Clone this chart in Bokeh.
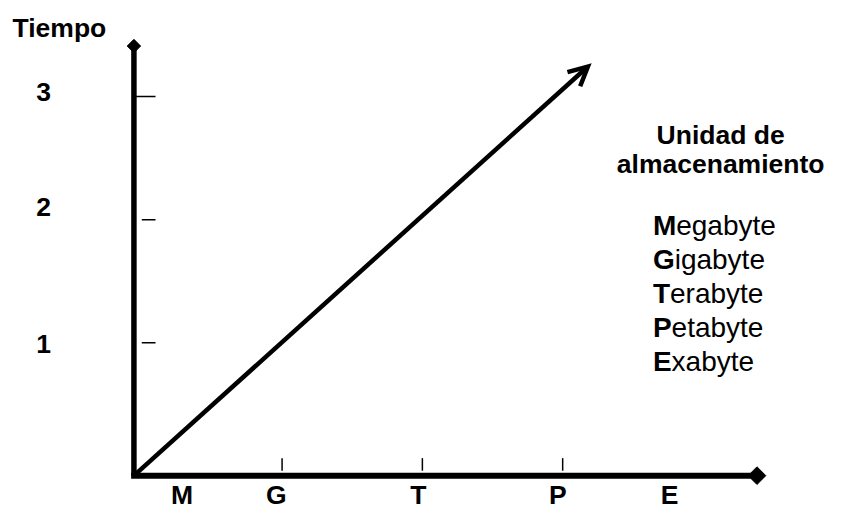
from bokeh.plotting import figure
from bokeh.models import Range1d, ColumnDataSource, Arrow, OpenHead
from bokeh.core.properties import value
from bokeh.embed import file_html
from bokeh.resources import INLINE
import math

# ---- data ----
x_labels = ["M", "G", "T", "P", "E"]
x_label_pos = [0.287, 0.958, 1.972, 2.965, 3.762]
x_ticks = [1, 2, 3]
y_ticks = [1, 2, 3]
y_labels = ["1", "2", "3"]
y_label_pos = [0.992, 2.106, 3.035]
growth_x = [-0.056, 3.18]
growth_y = [-0.079, 3.244]
y_title = "Tiempo"
legend_title = ["Unidad de", "almacenamiento"]
units = ["Megabyte", "Gigabyte", "Terabyte", "Petabyte", "Exabyte"]

FONT = value("Liberation Sans")

# axis extents
ox, oy = -0.056, -0.079
x_end, y_end = 4.385, 3.41

p = figure(width=830, height=509, output_backend="svg", toolbar_location=None,
           x_range=Range1d(-1.007, 4.909), y_range=Range1d(-0.354, 3.780),
           x_axis_type=None, y_axis_type=None, min_border=0)
p.grid.visible = False
p.outline_line_color = None
p.background_fill_color = "white"

# axes
p.segment(x0=[ox], y0=[oy], x1=[ox], y1=[y_end], line_width=5.5, color="black")
p.segment(x0=[ox - 0.02], y0=[oy], x1=[x_end], y1=[oy], line_width=6, color="black")
p.scatter(x=[ox], y=[y_end], marker="square", size=9.5, angle=math.pi / 4, color="black")
p.scatter(x=[x_end], y=[oy], marker="square", size=12.5, angle=math.pi / 4, color="black")

# ticks
p.segment(x0=x_ticks, y0=[0.063] * 3, x1=x_ticks, y1=[-0.039] * 3, line_width=1.5, color="black")
p.segment(x0=[0.0, 0.0, -0.042], y0=y_ticks, x1=[0.098] * 3, y1=y_ticks, line_width=1.5, color="black")

BFS = value("26.5px")
# tick labels
p.text(x=x_label_pos, y=[-0.236] * 5, text=x_labels, text_font=FONT, text_font_style="bold",
       text_font_size=BFS, text_align="center", text_baseline="middle", color="black")
p.text(x=[-0.699] * 3, y=y_label_pos, text=y_labels, text_font=FONT, text_font_style="bold",
       text_font_size=BFS, text_align="center", text_baseline="middle", color="black")
p.text(x=[-0.587], y=[3.555], text=[y_title], text_font=FONT, text_font_style="bold",
       text_font_size=BFS, text_align="center", text_baseline="middle", color="black")

# growth arrow
p.add_layout(Arrow(end=OpenHead(size=19, line_width=4.5, line_color="black", line_join="miter"),
                   x_start=growth_x[0], y_start=growth_y[0], x_end=growth_x[1], y_end=growth_y[1],
                   line_width=4.5, line_color="black"))

# legend text
p.text(x=[4.126] * 2, y=[2.685, 2.449], text=legend_title, text_font=FONT, text_font_style="bold",
       text_font_size=BFS, text_align="center", text_baseline="middle", color="black")

bold_w = {"M": 0.833, "G": 0.778, "T": 0.611, "P": 0.667, "E": 0.667}
fs = 28
src = ColumnDataSource(dict(
    x=[3.643] * len(units),
    y=[1.953] * len(units),
    first=[u[0] for u in units],
    rest=[u[1:] for u in units],
    yoff=[34 * i for i in range(len(units))],
    xoff=[bold_w[u[0]] * fs for u in units],
))
p.text(x="x", y="y", text="first", y_offset="yoff", source=src, text_font=FONT, text_font_style="bold",
       text_font_size=value(f"{fs}px"), text_align="left", text_baseline="middle", color="black")
p.text(x="x", y="y", text="rest", y_offset="yoff", x_offset="xoff", source=src, text_font=FONT,
       text_font_size=value(f"{fs}px"), text_align="left", text_baseline="middle", color="black")

open("out.html", "w").write(file_html(p, INLINE))
